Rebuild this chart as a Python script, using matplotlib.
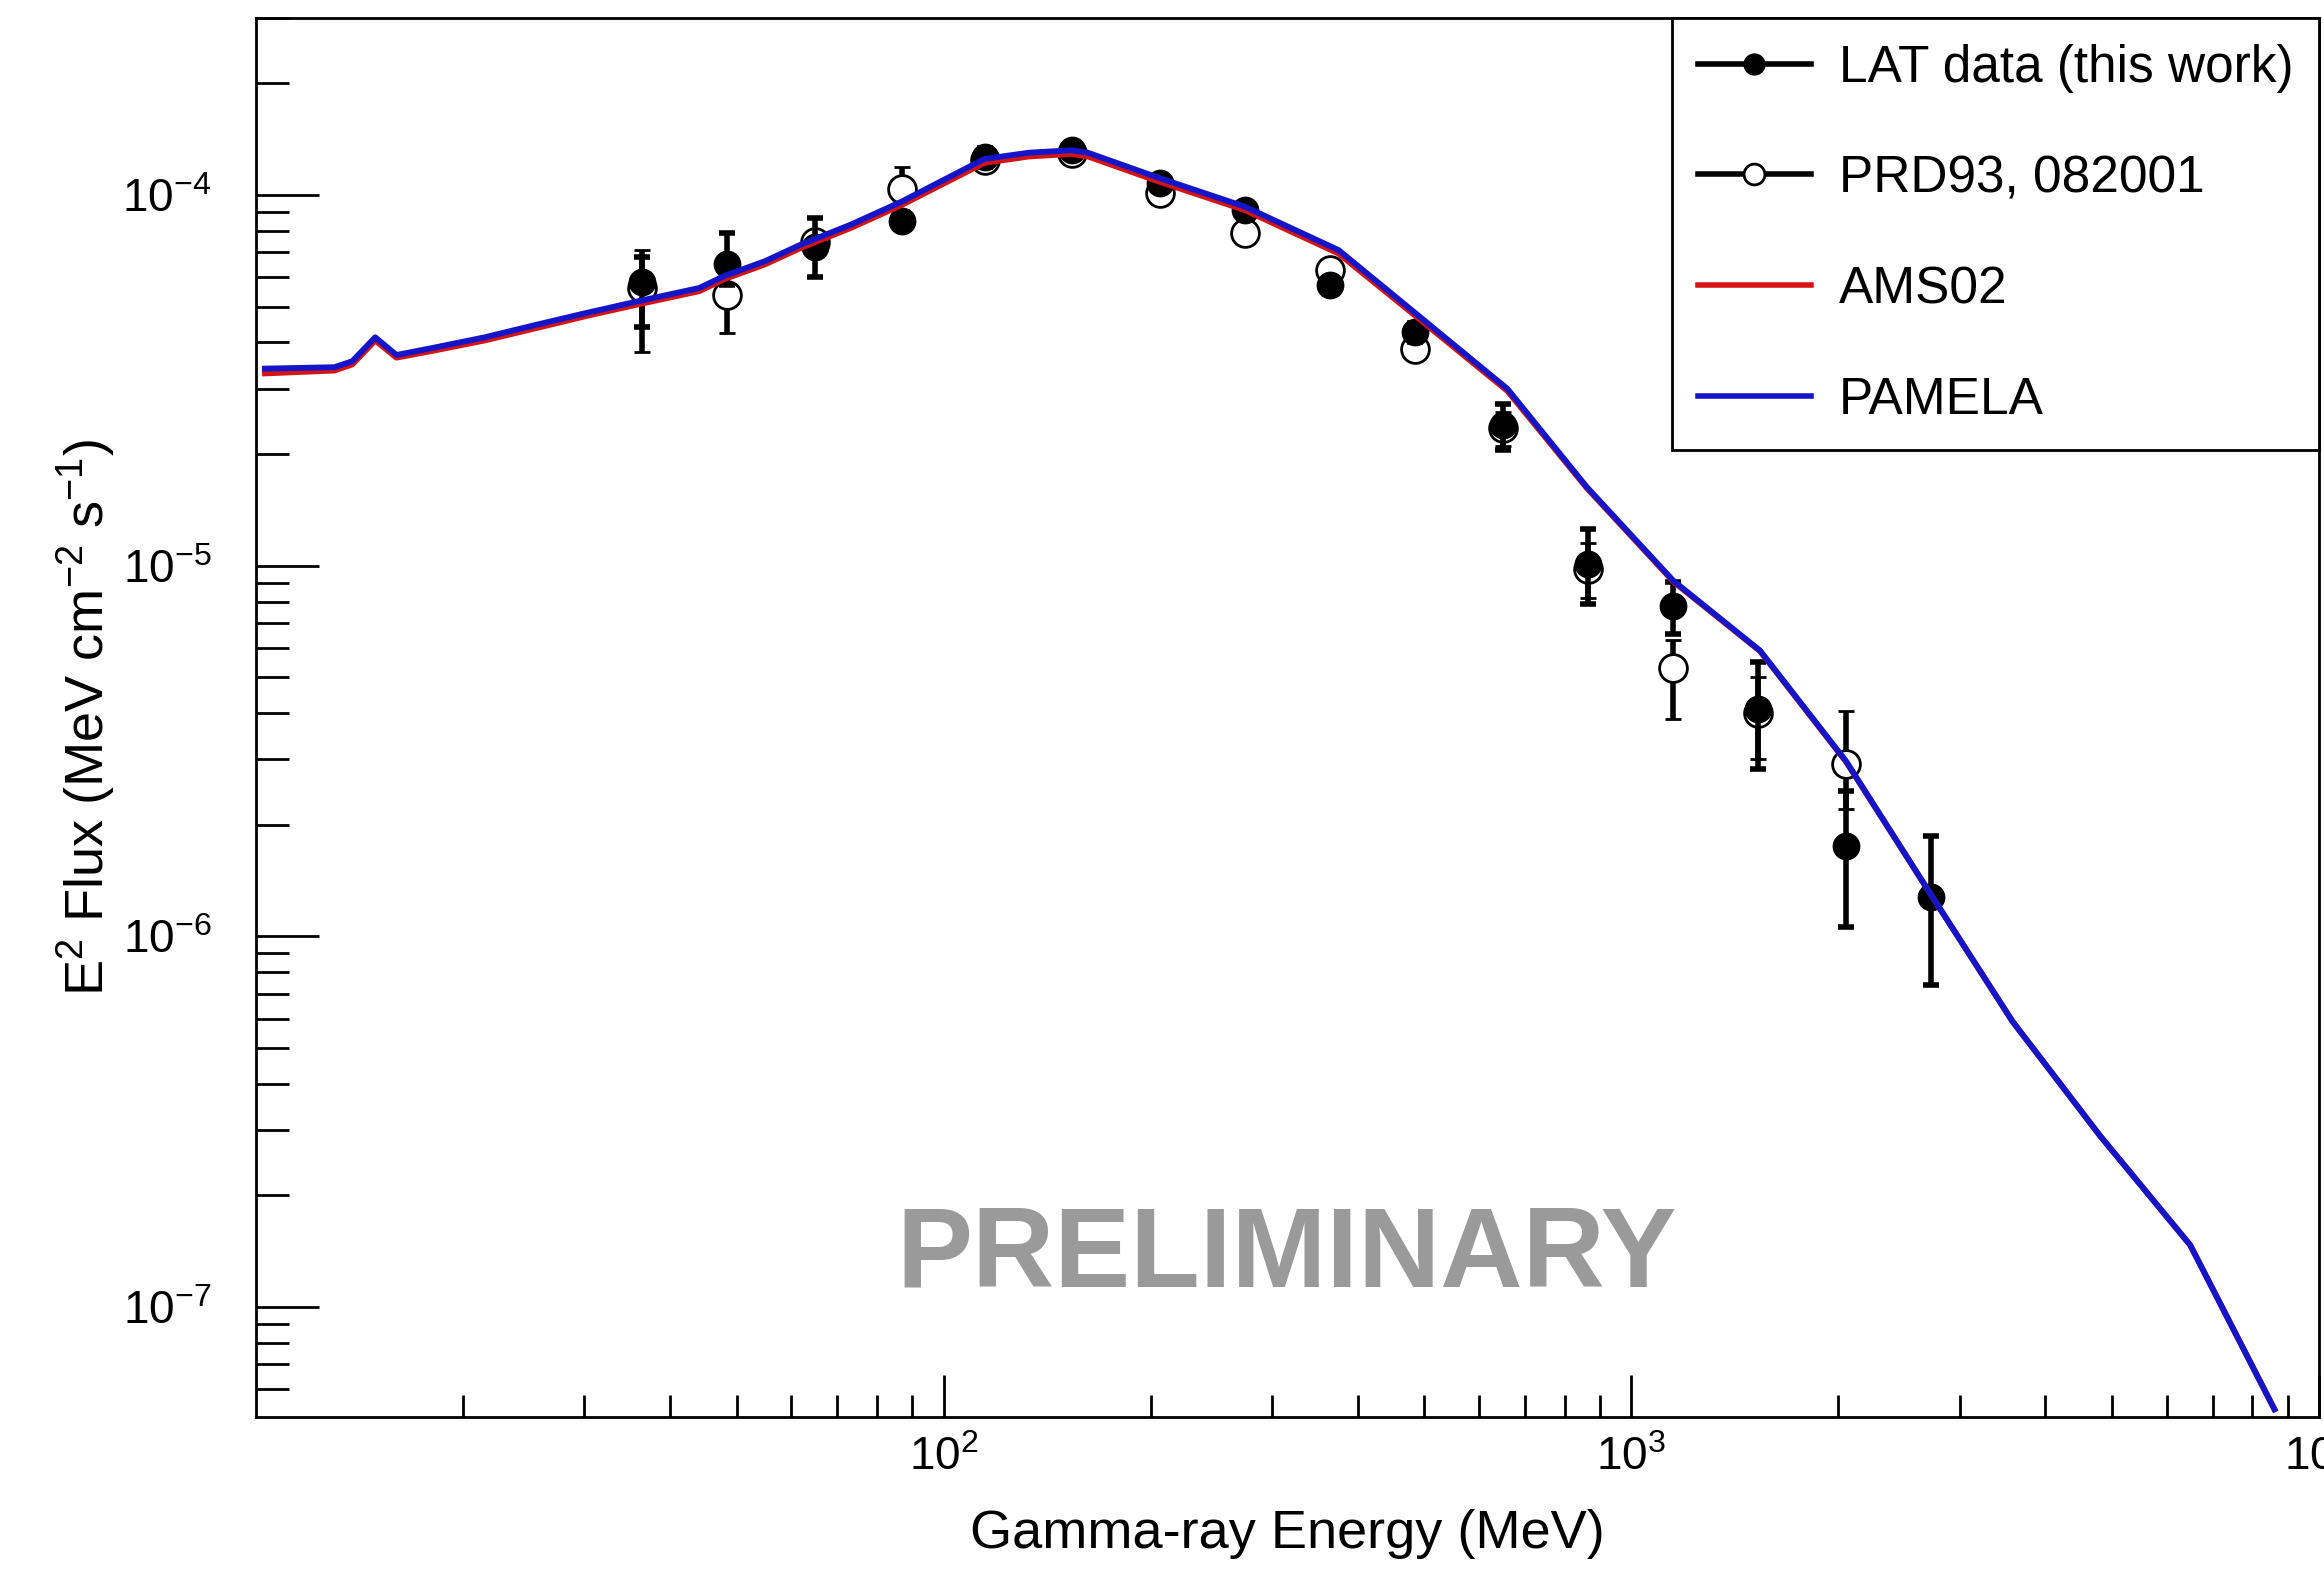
import matplotlib
matplotlib.use("Agg")
import matplotlib.pyplot as plt
from matplotlib.lines import Line2D
from matplotlib.ticker import FixedLocator, LogLocator, NullFormatter

plt.rcParams['font.family'] = ['Liberation Sans', 'DejaVu Sans']
plt.rcParams['mathtext.fontset'] = 'custom'
plt.rcParams['mathtext.rm'] = 'Liberation Sans'
plt.rcParams['mathtext.it'] = 'Liberation Sans:italic'
plt.rcParams['mathtext.bf'] = 'Liberation Sans:bold'

# model curves (MeV, MeV cm^-2 s^-1)
model_e = [10.3, 13.0, 13.8, 14.9, 16.0, 18.1, 21.5, 25.5, 30.3, 36.5, 44.1, 48.0,
           55.0, 62.0, 73.3, 86.9, 114.5, 133.0, 153.5, 162.0, 206.0, 274.0, 375.0,
           485.0, 660.0, 861.0, 1151.0, 1538.0, 2051.0, 2723.0, 3581.0, 4800.0,
           6494.0, 8610.0]
pamela_f = [3.40e-5, 3.43e-5, 3.56e-5, 4.13e-5, 3.70e-5, 3.87e-5, 4.13e-5, 4.46e-5,
            4.81e-5, 5.20e-5, 5.61e-5, 6.05e-5, 6.63e-5, 7.35e-5, 8.32e-5, 9.60e-5,
            1.25e-4, 1.30e-4, 1.32e-4, 1.30e-4, 1.11e-4, 9.30e-5, 7.10e-5, 4.80e-5,
            3.00e-5, 1.63e-5, 9.10e-6, 5.90e-6, 2.97e-6, 1.30e-6, 5.90e-7, 2.90e-7,
            1.47e-7, 5.30e-8]
ams02_f = [3.30e-5, 3.36e-5, 3.49e-5, 4.05e-5, 3.64e-5, 3.80e-5, 4.05e-5, 4.37e-5,
           4.72e-5, 5.10e-5, 5.50e-5, 5.93e-5, 6.50e-5, 7.20e-5, 8.15e-5, 9.40e-5,
           1.22e-4, 1.27e-4, 1.29e-4, 1.27e-4, 1.085e-4, 9.10e-5, 6.95e-5, 4.72e-5,
           2.96e-5, 1.62e-5, 9.05e-6, 5.88e-6, 2.96e-6, 1.30e-6, 5.90e-7, 2.90e-7,
           1.47e-7, 5.30e-8]

# LAT data (this work)
lat_e = [36.4, 48.4, 65.0, 86.9, 114.8, 153.5, 206.4, 274.2, 364.6, 484.6, 651.0,
         865.6, 1151.0, 1530.0, 2051.0, 2723.0]
lat_f = [5.83e-5, 6.53e-5, 7.22e-5, 8.50e-5, 1.265e-4, 1.32e-4, 1.075e-4, 9.11e-5,
         5.71e-5, 4.27e-5, 2.39e-5, 1.01e-5, 7.80e-6, 4.10e-6, 1.75e-6, 1.28e-6]
lat_hi = [6.81e-5, 7.88e-5, 8.65e-5, 9.00e-5, 1.34e-4, 1.38e-4, 1.12e-4, 9.50e-5,
          6.00e-5, 4.50e-5, 2.73e-5, 1.257e-5, 9.02e-6, 5.48e-6, 2.47e-6, 1.86e-6]
lat_lo = [4.40e-5, 5.70e-5, 6.01e-5, 8.13e-5, 1.19e-4, 1.26e-4, 1.03e-4, 8.70e-5,
          5.40e-5, 4.00e-5, 2.05e-5, 7.88e-6, 6.53e-6, 2.82e-6, 1.06e-6, 7.39e-7]

# PRD93, 082001
prd_e = [36.4, 48.4, 65.0, 86.9, 114.8, 153.5, 206.4, 274.2, 364.6, 484.6, 651.0,
         865.6, 1151.0, 1530.0, 2051.0]
prd_f = [5.60e-5, 5.37e-5, 7.48e-5, 1.04e-4, 1.24e-4, 1.30e-4, 1.01e-4, 7.88e-5,
         6.27e-5, 3.85e-5, 2.35e-5, 9.80e-6, 5.31e-6, 4.00e-6, 2.91e-6]
prd_hi = [7.10e-5, 6.20e-5, 7.90e-5, 1.19e-4, 1.30e-4, 1.36e-4, 1.05e-4, 8.20e-5,
          6.50e-5, 4.00e-5, 2.60e-5, 1.15e-5, 6.30e-6, 5.00e-6, 4.06e-6]
prd_lo = [3.77e-5, 4.23e-5, 7.10e-5, 9.60e-5, 1.18e-4, 1.25e-4, 9.70e-5, 7.60e-5,
          6.00e-5, 3.70e-5, 2.10e-5, 8.20e-6, 3.86e-6, 3.00e-6, 2.20e-6]

legend_labels = ['LAT data (this work)', 'PRD93, 082001', 'AMS02', 'PAMELA']
x_ticks = [1e2, 1e3, 1e4]
x_ticklabels = ['$10^{2}$', '$10^{3}$', '$10^{4}$']
y_ticks = [1e-7, 1e-6, 1e-5, 1e-4]
y_ticklabels = ['$10^{-7}$', '$10^{-6}$', '$10^{-5}$', '$10^{-4}$']

red = '#d41414'
blue = '#1414c8'

fig = plt.figure(figsize=(23.24, 15.71), dpi=100)
ax = fig.add_axes([0.1102, 0.0980, 0.8877, 0.8905])
ax.set_xscale('log')
ax.set_yscale('log')

prd_err = [[f - l for f, l in zip(prd_f, prd_lo)], [h - f for f, h in zip(prd_f, prd_hi)]]
lat_err = [[f - l for f, l in zip(lat_f, lat_lo)], [h - f for f, h in zip(lat_f, lat_hi)]]

ax.errorbar(prd_e, prd_f, yerr=prd_err, fmt='o', ms=20, mfc='white', mec='black',
            mew=2, color='black', elinewidth=4, capsize=6, capthick=4, zorder=2)
ax.errorbar(lat_e, lat_f, yerr=lat_err, fmt='o', ms=19, mfc='black', mec='black',
            color='black', elinewidth=4, capsize=6, capthick=4, zorder=3)
ax.plot(model_e, ams02_f, color=red, lw=4.2, zorder=4)
ax.plot(model_e, pamela_f, color=blue, lw=4.2, zorder=5)

ax.set_xlim(10, 1e4)
ax.set_ylim(5.05e-8, 3.0e-4)

ax.xaxis.set_major_locator(FixedLocator(x_ticks))
ax.set_xticklabels(x_ticklabels)
ax.xaxis.set_minor_locator(LogLocator(base=10, subs=range(2, 10), numticks=20))
ax.xaxis.set_minor_formatter(NullFormatter())
ax.yaxis.set_major_locator(FixedLocator(y_ticks))
ax.set_yticklabels(y_ticklabels)
ax.yaxis.set_minor_locator(LogLocator(base=10, subs=range(2, 10), numticks=20))
ax.yaxis.set_minor_formatter(NullFormatter())

ax.tick_params(which='both', direction='in', top=False, right=False, width=2, colors='black')
ax.tick_params(axis='x', which='major', length=30, pad=14, labelsize=33)
ax.tick_params(axis='x', which='minor', length=16)
ax.tick_params(axis='y', which='major', length=45, pad=32, labelsize=33)
ax.tick_params(axis='y', which='minor', length=24)
for sp in ax.spines.values():
    sp.set_linewidth(2)

ax.set_xlabel('Gamma-ray Energy (MeV)', fontsize=39)
ax.xaxis.set_label_coords(0.5, -0.0836)
ax.xaxis.label.set_va('center')
ax.set_ylabel('E$^{2}$ Flux (MeV cm$^{-2}$ s$^{-1}$)', fontsize=39)
ax.yaxis.set_label_coords(-0.0824, 0.5)
ax.yaxis.label.set_va('center')

ax.text(0.4993, 0.114, 'PRELIMINARY', transform=ax.transAxes, fontsize=82,
        fontweight='bold', color='#9a9a9a', ha='center', va='center', zorder=1)

handles = [
    Line2D([], [], color='black', lw=4, marker='o', ms=15, mfc='black', mec='black'),
    Line2D([], [], color='black', lw=4, marker='o', ms=15, mfc='white', mec='black', mew=2),
    Line2D([], [], color=red, lw=4),
    Line2D([], [], color=blue, lw=4),
]
leg = ax.legend(handles, legend_labels, loc='upper right', bbox_to_anchor=(1.0, 1.0),
                borderaxespad=0, fontsize=37, frameon=True, fancybox=False,
                edgecolor='black', framealpha=1, handlelength=2.2, handletextpad=0.55,
                labelspacing=1.2, borderpad=0.5)
leg.get_frame().set_linewidth(2)

fig.savefig('out.png', dpi=100)
